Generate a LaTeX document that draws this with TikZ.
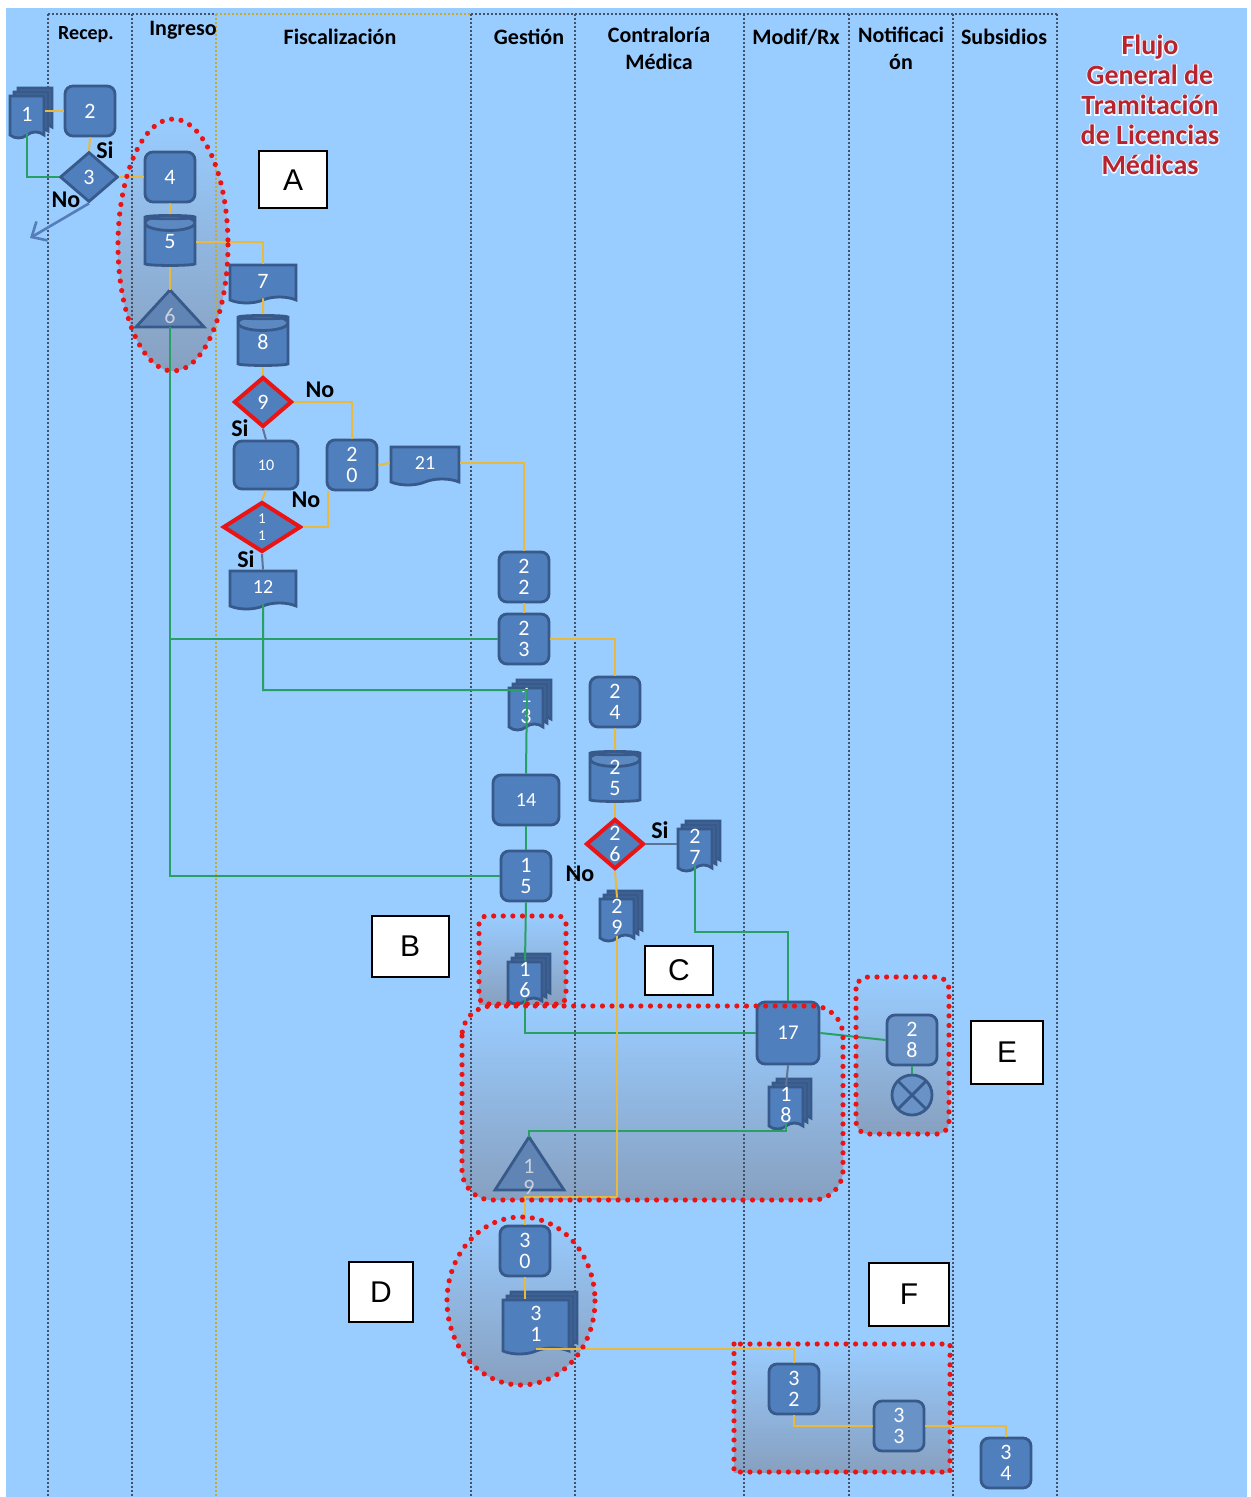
\documentclass[tikz,border=0pt]{standalone}
\usepackage{fontspec}
\setmainfont{Carlito}
\newfontfamily\arialf{Liberation Sans}
\newfontfamily\glowfont[BoldFeatures={FakeBold=8}]{Carlito}
\usetikzlibrary{shapes.geometric,shapes.symbols,shadows,arrows.meta,calc}
\definecolor{bg}{RGB}{153,204,255}
\definecolor{nfill}{RGB}{79,127,189}
\definecolor{nbord}{RGB}{56,90,138}
\definecolor{ylc}{RGB}{232,185,60}
\definecolor{grc}{RGB}{40,160,100}
\definecolor{gbc}{RGB}{95,115,150}
\definecolor{lanec}{RGB}{70,80,100}
\definecolor{laneyc}{RGB}{200,170,40}
\definecolor{rdc}{RGB}{235,20,20}
\definecolor{shd}{RGB}{135,160,192}
\definecolor{ttlc}{RGB}{185,35,45}
\definecolor{arrc}{RGB}{85,125,185}
\newcommand\ttltext{Flujo\\General de\\Tramitación\\de Licencias\\Médicas}
\begin{document}
\begin{tikzpicture}[x=0.5pt,y=-0.5pt,
  lbl/.style={text=white,font=\fontsize{11}{10.5}\selectfont,align=center},
  proc/.style={rectangle,rounded corners=4pt,draw=nbord,fill=nfill,line width=1.4pt,minimum width=25pt,minimum height=25pt,inner sep=0pt,lbl},
  cyl/.style={cylinder,shape border rotate=90,aspect=0.3,draw=nbord,fill=nfill,line width=1.4pt,minimum width=25pt,minimum height=25pt,inner sep=0pt,lbl,
    path picture={\fill[nfill!92!white] ($(path picture bounding box.north)+(0,7.5)$) ellipse [x radius=25,y radius=7.5];
      \draw[nbord,line width=1.4pt] ($(path picture bounding box.north)+(0,7.5)$) ellipse [x radius=25,y radius=7.5];}},
  dia/.style={diamond,draw=nbord,fill=nfill,line width=1.4pt,minimum width=29pt,minimum height=25pt,inner sep=0pt,lbl},
  rdia/.style={dia,draw=rdc,line width=2pt},
  doc/.style={tape,tape bend top=none,tape bend height=3pt,draw=nbord,fill=nfill,line width=1.4pt,minimum width=33pt,minimum height=19pt,inner sep=0pt,lbl},
  mdoc/.style={doc,minimum width=17pt,minimum height=21pt,double copy shadow={shadow xshift=2pt,shadow yshift=2pt,fill=nfill!80!black,draw=nbord}},
  tri/.style={draw=nbord,fill=nfill!80!gray,fill opacity=0.85,line width=1.4pt},
  trilbl/.style={text={rgb,255:red,205;green,208;blue,218},font=\fontsize{11}{10.5}\selectfont,align=center},
  ylw/.style={draw=ylc,line width=1pt},
  grn/.style={draw=grc,line width=1pt},
  gbl/.style={draw=gbc,line width=1pt},
  lanel/.style={draw=lanec,line width=1pt,dash pattern=on 1pt off 1pt},
  laney/.style={draw=laneyc,line width=1pt,dash pattern=on 1pt off 1pt},
  hdr/.style={font=\bfseries\fontsize{11}{13.5}\selectfont,align=center,inner sep=0pt},
  yn/.style={font=\bfseries\fontsize{12}{12}\selectfont,inner sep=0pt},
  lbox/.style={draw=black,fill=white,line width=1pt,font=\arialf\fontsize{15}{15}\selectfont,inner sep=0pt},
  reddot/.style={draw=rdc,line width=2.6pt,line cap=round,dash pattern=on 0pt off 4.8pt},
  ttl/.style={font=\bfseries\fontsize{14}{15}\selectfont,align=center,inner sep=0pt}
]
\useasboundingbox (0,0) rectangle (1250,1497);
\fill[white] (0,0) rectangle (1250,1497);
\fill[bg] (6,8) rectangle (1247,1497);

% shaded regions
\shade[top color=bg,middle color=bg,bottom color=shd] (173,245) ellipse [x radius=55,y radius=126];
\shade[top color=bg,bottom color=shd] (479,916) rectangle (566,1004);
\shade[top color=bg,middle color=bg!75!shd,bottom color=shd,rounded corners=15pt] (462,1006) rectangle (843,1200);
\shade[top color=bg,middle color=bg!70!shd,bottom color=shd,rounded corners=6pt] (856,977) rectangle (949,1134);
\shade[top color=bg,middle color=bg,bottom color=shd] (521,1301) ellipse [x radius=74,y radius=84];
\shade[top color=bg,middle color=bg!80!shd,bottom color=shd] (734,1344) rectangle (950,1472);

% lanes
\foreach \x in {48,132,471,575,744,849,953,1057} \draw[lanel] (\x,14) -- (\x,1497);
\draw[lanel] (48,14) -- (216,14);
\draw[lanel] (471,14) -- (1057,14);
\draw[laney] (216,14) -- (471,14);
\draw[laney] (216,14) -- (216,1497);

% headers
\node[hdr,font=\bfseries\fontsize{10}{12}\selectfont] (hRecep) at (86,35) {Recep.};
\node[hdr] (hIngreso) at (183,30) {Ingreso};
\node[hdr] (hFisc) at (340,37) {Fiscalización};
\node[hdr] (hGest) at (529,37) {Gestión};
\node[hdr,anchor=north] (hContr) at (659,27) {Contraloría\\Médica};
\node[hdr] (hModif) at (796,37) {Modif/Rx};
\node[hdr,anchor=north] (hNotif) at (901,27) {Notificaci\\ón};
\node[hdr] (hSubs) at (1004,37) {Subsidios};

% title with glow
\node[ttl,text=white!90!bg,font=\glowfont\bfseries\fontsize{14}{15}\selectfont] (glow) at (1150,105) {\ttltext};
\node[ttl,text=ttlc] (title) at (1150,105) {\ttltext};

% triangles
\draw[tri] (136,327) -- (170,290) -- (204,327) -- cycle;
\coordinate (t6apex) at (170,290);
\coordinate (t6base) at (170,327);
\node[trilbl] (n6) at (170,316) {6};
\draw[tri] (495,1190) -- (529,1137) -- (564,1190) -- cycle;
\coordinate (t19apex) at (529,1137);
\node[trilbl] (n19) at (529,1177) {1\\9};

% nodes
\node[mdoc] (n1) at (27,114) {1};
\node[proc] (n2) at (90,111) {2};
\node[dia] (n3) at (89,177) {3};
\node[proc] (n4) at (170,177) {4};
\node[cyl] (n5) at (170,242) {5};
\node[doc] (n7) at (263,281) {7};
\node[cyl] (n8) at (263,342) {8};
\node[rdia] (n9) at (263,402) {9};
\node[proc,minimum width=32pt,minimum height=24pt,font=\fontsize{8}{8}\selectfont] (n10) at (266,465) {10};
\node[proc] (n20) at (352,465) {2\\0};
\node[doc,minimum width=34pt,font=\fontsize{10}{10}\selectfont] (n21) at (425,463) {21};
\node[rdia,minimum width=39pt,font=\fontsize{7.5}{8.5}\selectfont] (n11) at (262,527) {1\\1};
\node[doc,font=\fontsize{10}{10}\selectfont] (n12) at (263,587) {12};
\node[proc] (n22) at (524,577) {2\\2};
\node[proc] (n23) at (524,639) {2\\3};
\node[mdoc] (n13) at (526,706) {1\\3};
\node[proc] (n24) at (615,702) {2\\4};
\node[cyl] (n25) at (615,778) {2\\5};
\node[rdia] (n26) at (615,844) {2\\6};
\node[mdoc] (n27) at (695,847) {2\\7};
\node[proc,minimum width=33pt,font=\fontsize{10}{10}\selectfont] (n14) at (526,800) {14};
\node[proc] (n15) at (526,876) {1\\5};
\node[mdoc] (n29) at (617,917) {2\\9};
\node[mdoc] (n16) at (525,980) {1\\6};
\node[proc,minimum width=31pt,minimum height=31pt,font=\fontsize{10.5}{10.5}\selectfont] (n17) at (788,1033) {17};
\node[mdoc] (n18) at (786,1105) {1\\8};
\node[proc,fill=nfill!85!white] (n28) at (912,1040) {2\\8};
\node[circle,draw=nbord,fill=nfill!85!white,line width=1.4pt,minimum size=20pt,inner sep=0pt,
  path picture={\draw[nbord,line width=1.4pt] (path picture bounding box.north west) -- (path picture bounding box.south east) (path picture bounding box.north east) -- (path picture bounding box.south west);}] (nX) at (912,1095) {};
\node[proc] (n30) at (525,1251) {3\\0};
\node[mdoc,minimum width=33pt,minimum height=27pt] (n31) at (536,1324) {3\\1};
\node[proc] (n32) at (794,1389) {3\\2};
\node[proc,fill=nfill!85!white] (n33) at (899,1426) {3\\3};
\node[proc] (n34) at (1006,1463) {3\\4};

% connectors
\coordinate (noend) at (30,238);
\coordinate (j13) at (527,690);
\draw[ylw] (n1.east |- n2.west) -- (n2.west);
\draw[grn] (n1.south) |- (n3.west);
\draw[ylw] (n2.south) -- (n3.north);
\draw[ylw] (n3.east) -- (n4.west);
\draw[draw=arrc,line width=1.3pt,-{Straight Barb[length=6pt,width=11pt]}] (n3.south) -- (noend);
\draw[ylw] (n4.south) -- (n5.north);
\draw[ylw] (n5.south) -- (t6apex);
\draw[ylw] (n5.east) -| (n7.north);
\draw[ylw] (n7.south) -- (n8.north);
\draw[ylw] (n8.south) -- (n9.north);
\draw[gbl] (n9.south) -- (n10.north);
\draw[ylw] (n9.east) -| (n20.north);
\draw[ylw] (n10.south) -- (n11.north);
\draw[ylw] (n11.east) -| ($(n20.south west)+(2,0)$);
\draw[gbl] (n11.south) -- (n12.north);
\draw[ylw] (n20.east) -- (n21.west);
\draw[ylw] (n21.east) -| (n22.north);
\draw[ylw] (n22.south) -- (n23.north);
\draw[ylw] (n23.east) -| (n24.north);
\draw[ylw] (n24.south) -- (n25.north);
\draw[ylw] (n25.south) -- (n26.north);
\draw[gbl] (n26.east) -- (n26.east -| n27.west);
\draw[ylw] (n26.south) -- (n29.north);
\draw[grn] (n27.south) -- ($(n27.south)+(0,66)$) -| (n17.north);
\draw[grn] (t6base) |- (n15.west);
\draw[grn] (n23.west) -- (n23.west -| t6base);
\draw[grn] (n12.south) |- (j13) -- (n14.north);
\draw[grn] (n14.south) -- (n15.north);
\draw[grn] (n15.south) -- (n16.north);
\draw[grn] (n16.south) |- (n17.west);
\draw[grn] (n17.east) -- (n28.west);
\draw[grn] (n28.south) -- (nX.north);
\draw[gbl] (n17.south) -- (n18.north);
\draw[grn] (n18.south) |- ($(t19apex)+(0,-6)$) -- (t19apex);
\draw[ylw] (n29.south) |- ($(n30.north)+(0,-28)$) -- (n30.north);
\draw[ylw] (n30.south) -- (n30.south |- n31.north);
\draw[ylw] (n31.south) -| (n32.north);
\draw[ylw] (n32.south) |- (n33.west);
\draw[ylw] (n33.east) -| (n34.north);

% Si / No labels
\node[yn] (s3) at (105,150) {Si};
\node[yn] (o3) at (66,200) {No};
\node[yn] (o9) at (320,390) {No};
\node[yn] (s9) at (240,428) {Si};
\node[yn] (o11) at (306,500) {No};
\node[yn] (s11) at (246,559) {Si};
\node[yn] (s26) at (660,830) {Si};
\node[yn] (o26) at (580,874) {No};

% letter boxes
\node[lbox,minimum width=34pt,minimum height=28.5pt] (bA) at (293,180) {A};
\node[lbox,minimum width=38.5pt,minimum height=30.5pt] (bB) at (410,946) {B};
\node[lbox,minimum width=34pt,minimum height=24.5pt] (bC) at (679,970) {C};
\node[lbox,minimum width=32pt,minimum height=30pt] (bD) at (381,1292) {D};
\node[lbox,minimum width=36pt,minimum height=31.5pt] (bE) at (1007,1052) {E};
\node[lbox,minimum width=40pt,minimum height=31.5pt] (bF) at (909,1294) {F};

% red dotted outlines
\draw[reddot] (173,245) ellipse [x radius=55,y radius=126];
\draw[reddot,rounded corners=4pt] (479,916) rectangle (566,1004);
\draw[reddot,rounded corners=15pt] (462,1006) rectangle (843,1200);
\draw[reddot,rounded corners=6pt] (856,977) rectangle (949,1134);
\draw[reddot] (521,1301) ellipse [x radius=74,y radius=84];
\draw[reddot] (734,1344) rectangle (950,1472);
\end{tikzpicture}
\end{document}
